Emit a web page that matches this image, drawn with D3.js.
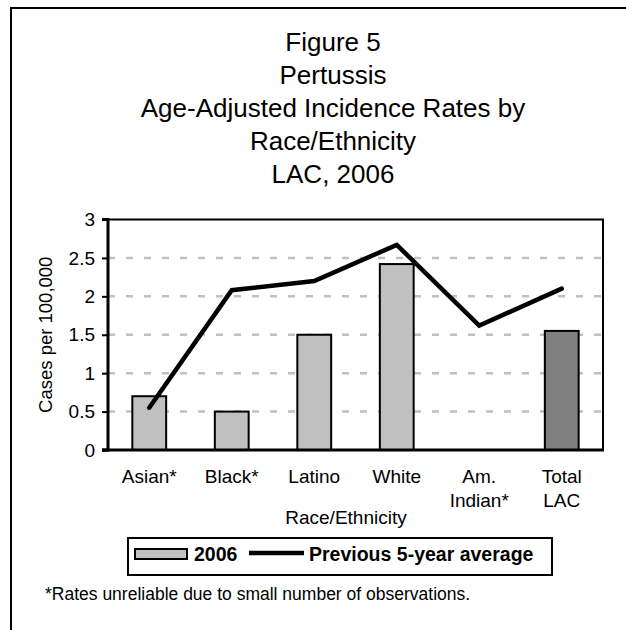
<!DOCTYPE html>
<html>
<head>
<meta charset="utf-8">
<script src="https://cdn.jsdelivr.net/npm/d3@7"></script>
<style>
  html, body { margin: 0; padding: 0; background: #fff; }
  svg { display: block; font-family: "Liberation Sans", Arial, sans-serif; }
</style>
</head>
<body>
<svg id="chart" width="626" height="630"></svg>
<script>
const categories = ["Asian*", "Black*", "Latino", "White", "Am. Indian*", "Total LAC"];
const categoryLines = [["Asian*"], ["Black*"], ["Latino"], ["White"], ["Am.", "Indian*"], ["Total", "LAC"]];
const rates2006 = [0.7, 0.5, 1.5, 2.42, null, 1.55];
const prev5yrAvg = [0.55, 2.08, 2.2, 2.67, 1.62, 2.1];
const yTicks = [0, 0.5, 1, 1.5, 2, 2.5, 3];
const yTickLabels = ["0", "0.5", "1", "1.5", "2", "2.5", "3"];
const titleLines = ["Figure 5", "Pertussis", "Age-Adjusted Incidence Rates by", "Race/Ethnicity", "LAC, 2006"];
const legendLabels = ["2006", "Previous 5-year average"];
const footnote = "*Rates unreliable due to small number of observations.";

const svg = d3.select("#chart");
const plot = { left: 108, right: 603, top: 219.5, bottom: 450 };

// outer frame
svg.append("rect").attr("x", 11).attr("y", 8).attr("width", 700).attr("height", 700)
  .attr("fill", "none").attr("stroke", "#000").attr("stroke-width", 2);

// title
svg.append("g").selectAll("text").data(titleLines).join("text")
  .attr("x", 333).attr("y", (d, i) => 51 + i * 33)
  .attr("text-anchor", "middle").attr("font-size", 26).attr("fill", "#000")
  .text(d => d);

const x = d3.scaleBand().domain(categories).range([plot.left, plot.right]).padding(0);
const y = d3.scaleLinear().domain([0, 3]).range([plot.bottom, plot.top]);
const barW = x.bandwidth() * 0.41;

// gridlines
svg.append("g").selectAll("line").data(yTicks.filter(t => t > 0 && t < 3)).join("line")
  .attr("x1", plot.left).attr("x2", plot.right)
  .attr("y1", d => y(d)).attr("y2", d => y(d))
  .attr("stroke", "#c0c0c0").attr("stroke-width", 2.5).attr("stroke-dasharray", "7,11");

// plot frame (top, right)
svg.append("path")
  .attr("d", `M${plot.left},${y(3)}H${plot.right}V${plot.bottom}`)
  .attr("fill", "none").attr("stroke", "#000").attr("stroke-width", 2);

// bars
svg.append("g").selectAll("rect").data(categories.map((c, i) => ({ c, v: rates2006[i] })).filter(d => d.v != null))
  .join("rect")
  .attr("x", d => x(d.c) + (x.bandwidth() - barW) / 2)
  .attr("width", barW)
  .attr("y", d => y(d.v))
  .attr("height", d => y(0) - y(d.v))
  .attr("fill", d => d.c === "Total LAC" ? "#808080" : "#c0c0c0")
  .attr("stroke", "#000").attr("stroke-width", 2);

// y axis
const yAxis = d3.axisLeft(y).tickValues(yTicks).tickFormat((d, i) => yTickLabels[i]).tickSize(6).tickPadding(7);
const ya = svg.append("g").attr("transform", `translate(${plot.left},0)`).call(yAxis);
ya.select(".domain").attr("stroke-width", 3).attr("d", `M-6,${y(3)}H0V${y(0)}H-6`);
ya.selectAll(".tick line").attr("stroke-width", 2);
ya.selectAll(".tick text").attr("font-size", 19).attr("font-family", "Liberation Sans, Arial, sans-serif").attr("fill", "#000");

// x axis line
svg.append("line").attr("x1", plot.left - 6).attr("x2", plot.right + 1)
  .attr("y1", plot.bottom).attr("y2", plot.bottom)
  .attr("stroke", "#000").attr("stroke-width", 3);

// category labels
const cl = svg.append("g").selectAll("text").data(categories).join("text")
  .attr("x", d => x(d) + x.bandwidth() / 2)
  .attr("y", 483)
  .attr("text-anchor", "middle").attr("font-size", 19).attr("fill", "#000");
cl.selectAll("tspan").data((d, i) => categoryLines[i]).join("tspan")
  .attr("x", function() { return d3.select(this.parentNode).attr("x"); })
  .attr("dy", (d, i) => i === 0 ? 0 : 24)
  .text(d => d);

// axis titles
svg.append("text").attr("x", 346).attr("y", 524).attr("text-anchor", "middle")
  .attr("font-size", 19).attr("fill", "#000").text("Race/Ethnicity");
svg.append("text").attr("transform", `translate(52,${(plot.top + plot.bottom) / 2}) rotate(-90)`)
  .attr("text-anchor", "middle").attr("font-size", 18.5).attr("fill", "#000").text("Cases per 100,000");

// line
const line = d3.line().x((d, i) => x(categories[i]) + x.bandwidth() / 2).y(d => y(d));
svg.append("path").datum(prev5yrAvg).attr("d", line)
  .attr("fill", "none").attr("stroke", "#000").attr("stroke-width", 4.5)
  .attr("stroke-linejoin", "miter").attr("stroke-linecap", "round");

// legend
const lg = svg.append("g");
lg.append("rect").attr("x", 128).attr("y", 538).attr("width", 424).attr("height", 37)
  .attr("fill", "#fff").attr("stroke", "#000").attr("stroke-width", 2);
lg.append("rect").attr("x", 135).attr("y", 549).attr("width", 52).attr("height", 10)
  .attr("fill", "#c0c0c0").attr("stroke", "#000").attr("stroke-width", 2);
lg.append("text").attr("x", 194).attr("y", 561).attr("font-size", 19.5).attr("font-weight", "bold")
  .attr("fill", "#000").text(legendLabels[0]);
lg.append("line").attr("x1", 249).attr("x2", 304).attr("y1", 553).attr("y2", 553)
  .attr("stroke", "#000").attr("stroke-width", 4.5);
lg.append("text").attr("x", 309).attr("y", 561).attr("font-size", 19.5).attr("font-weight", "bold")
  .attr("fill", "#000").text(legendLabels[1]);

// footnote
svg.append("text").attr("x", 45).attr("y", 600).attr("font-size", 17.5).attr("fill", "#000").text(footnote);
</script>
</body>
</html>
